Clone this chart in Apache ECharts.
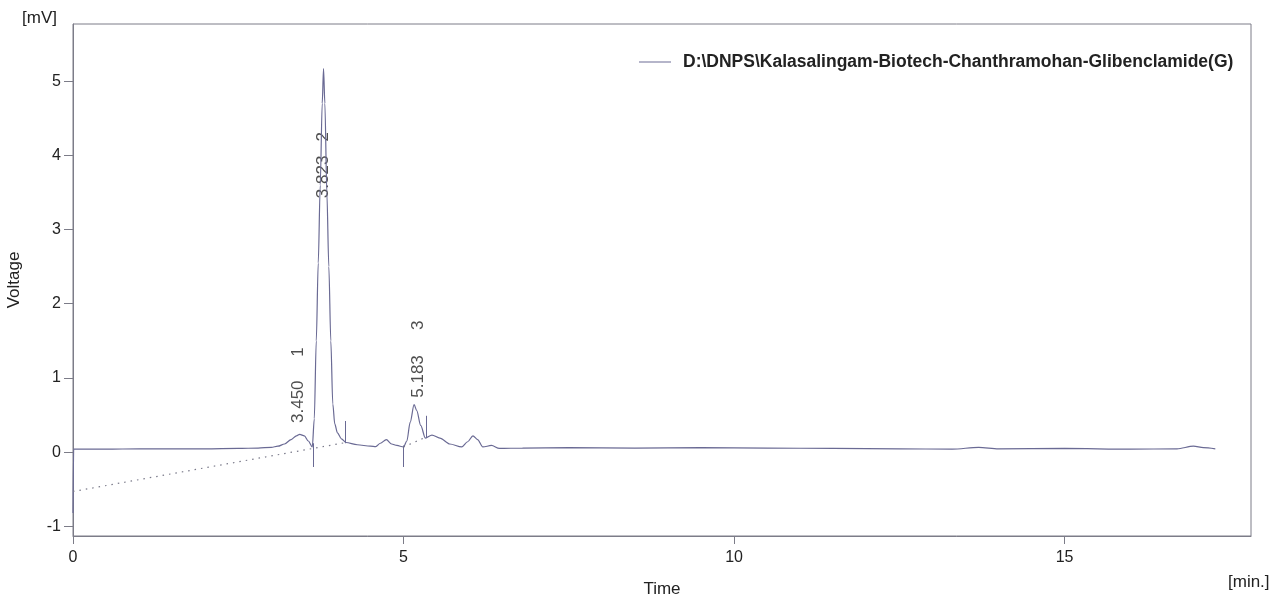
<!DOCTYPE html>
<html>
<head>
<meta charset="utf-8">
<script src="https://cdn.jsdelivr.net/npm/echarts@6/dist/echarts.min.js"></script>
<style>
  html, body { margin: 0; padding: 0; background: #fff; }
  #chart { width: 1288px; height: 600px; }
</style>
</head>
<body>
<div id="chart"></div>
<script>
// chromatogram trace (time in min, voltage in mV)
var times = [0, 0.01, 0.5, 1.0, 1.5, 2.0, 2.5, 2.8, 3.0, 3.1, 3.2, 3.3, 3.38, 3.43, 3.5, 3.56, 3.62,
    3.65, 3.68, 3.71, 3.74, 3.77, 3.79, 3.81, 3.84, 3.87, 3.9, 3.93, 3.96, 4.0, 4.06, 4.13,
    4.3, 4.5, 4.58, 4.65, 4.74, 4.82, 4.9, 5.0, 5.05, 5.1, 5.16, 5.2, 5.26, 5.33, 5.43, 5.55,
    5.7, 5.88, 5.97, 6.05, 6.12, 6.2, 6.33, 6.45, 6.8, 7.5, 8.5, 9.5, 10.5, 11.5, 12.5, 13.3,
    13.7, 14.0, 15.0, 16.0, 16.7, 16.95, 17.1, 17.28];
var voltage = [-0.82, 0.04, 0.04, 0.045, 0.045, 0.045, 0.05, 0.055, 0.065, 0.08, 0.11, 0.17, 0.22, 0.24, 0.22, 0.15, 0.07,
    0.45, 1.5, 2.55, 3.6, 4.7, 5.17, 4.7, 3.5, 2.5, 1.5, 0.65, 0.38, 0.26, 0.18, 0.13,
    0.1, 0.08, 0.075, 0.12, 0.17, 0.11, 0.09, 0.07, 0.15, 0.4, 0.64, 0.56, 0.36, 0.19, 0.23, 0.19,
    0.11, 0.07, 0.14, 0.22, 0.17, 0.07, 0.09, 0.05, 0.055, 0.06, 0.055, 0.06, 0.055, 0.05, 0.045, 0.04,
    0.065, 0.045, 0.05, 0.04, 0.045, 0.08, 0.06, 0.045];

// peak annotations
var peakTimes = ['3.450', '3.823', '5.183'];
var peakNums = ['1', '2', '3'];
var labelTimes = [3.41, 3.79, 5.22];
var timeLabelY = [0.68, 3.71, 1.02];
var numLabelY = [1.35, 4.25, 1.71];

// integration marks: [time, from, to]
var markTimes = [3.63, 4.125, 5.0, 5.35];
var markFrom = [0.12, 0.42, 0.09, 0.49];
var markTo = [-0.2, 0.12, -0.2, 0.19];

// dotted baselines: [t1, v1, t2, v2]
var baseLines = [[0, -0.53, 4.13, 0.13], [5.0, 0.07, 5.36, 0.21]];

var xTicks = [0, 5, 10, 15];
var yTicks = [-1, 0, 1, 2, 3, 4, 5];

var seriesName = 'D:\\DNPS\\Kalasalingam-Biotech-Chanthramohan-Glibenclamide(G)';
var lineColor = '#6a6a94';
var axisColor = '#7c7c88';
var textColor = '#222';

var trace = [];
for (var i = 0; i < times.length; i++) {
    trace.push([times[i], voltage[i]]);
}
var markData = [];
for (var i = 0; i < markTimes.length; i++) {
    markData.push([{ coord: [markTimes[i], markFrom[i]] }, { coord: [markTimes[i], markTo[i]] }]);
}
var baseData = [];
for (var i = 0; i < baseLines.length; i++) {
    var b = baseLines[i];
    baseData.push([{ coord: [b[0], b[1]] }, { coord: [b[2], b[3]] }]);
}
var timeLabels = [];
var numLabels = [];
for (var i = 0; i < peakTimes.length; i++) {
    timeLabels.push({ value: [labelTimes[i], timeLabelY[i]], text: peakTimes[i] });
    numLabels.push({ value: [labelTimes[i], numLabelY[i]], text: peakNums[i] });
}

var peakLabel = {
    show: true,
    position: 'inside',
    rotate: 90,
    color: textColor,
    fontSize: 17,
    fontFamily: 'Liberation Sans',
    formatter: function (p) { return p.data.text; }
};

var myChart = echarts.init(document.getElementById('chart'));
var option = {
    animation: false,
    backgroundColor: '#fff',
    grid: {
        left: 73,
        right: 37,
        top: 24,
        bottom: 64,
        outerBoundsMode: 'none',
        show: true,
        borderColor: axisColor,
        borderWidth: 1
    },
    legend: {
        data: [seriesName],
        left: 634,
        top: 48,
        icon: 'rect',
        itemWidth: 32,
        itemHeight: 1,
        itemGap: 0,
        textStyle: {
            color: textColor,
            fontSize: 17.5,
            fontWeight: 'bold',
            fontFamily: 'Liberation Sans',
            padding: [0, 0, 0, 7]
        }
    },
    xAxis: {
        type: 'value',
        min: 0,
        max: 17.82,
        name: 'Time',
        nameLocation: 'middle',
        nameGap: 45,
        nameTextStyle: { color: textColor, fontSize: 17, fontFamily: 'Liberation Sans' },
        axisLine: { show: true, onZero: false, lineStyle: { color: axisColor } },
        axisTick: { show: true, length: 8, customValues: xTicks, lineStyle: { color: axisColor } },
        axisLabel: { color: textColor, fontSize: 16, fontFamily: 'Liberation Sans', margin: 14, customValues: xTicks },
        splitLine: { show: false }
    },
    yAxis: {
        type: 'value',
        min: -1.13,
        max: 5.77,
        name: 'Voltage',
        nameLocation: 'middle',
        nameGap: 50,
        nameTextStyle: { color: textColor, fontSize: 17, fontFamily: 'Liberation Sans' },
        axisLine: { show: true, onZero: false, lineStyle: { color: axisColor } },
        axisTick: { show: true, length: 9, customValues: yTicks, lineStyle: { color: axisColor } },
        axisLabel: { color: textColor, fontSize: 16, fontFamily: 'Liberation Sans', margin: 12, customValues: yTicks },
        splitLine: { show: false }
    },
    graphic: [{
        type: 'text',
        left: 22,
        top: 10,
        style: { text: '[mV]', fill: textColor, fontSize: 17, fontFamily: 'Liberation Sans' }
    }, {
        type: 'text',
        left: 1228,
        top: 574,
        style: { text: '[min.]', fill: textColor, fontSize: 17, fontFamily: 'Liberation Sans' }
    }],
    series: [{
        name: seriesName,
        type: 'line',
        data: trace,
        symbol: 'none',
        smooth: 0.3,
        smoothMonotone: 'x',
        lineStyle: { color: lineColor, width: 1.2 },
        itemStyle: { color: lineColor },
        markLine: {
            silent: true,
            symbol: 'none',
            label: { show: false },
            lineStyle: { color: lineColor, width: 1, type: 'solid' },
            data: markData
        }
    }, {
        name: 'baseline',
        type: 'line',
        data: [],
        markLine: {
            silent: true,
            symbol: 'none',
            label: { show: false },
            lineStyle: { color: '#7a7a8a', width: 1.2, type: [1.5, 5] },
            data: baseData
        }
    }, {
        name: 'rt',
        type: 'scatter',
        symbolSize: 1,
        itemStyle: { color: 'rgba(0,0,0,0)' },
        label: peakLabel,
        data: timeLabels
    }, {
        name: 'num',
        type: 'scatter',
        symbolSize: 1,
        itemStyle: { color: 'rgba(0,0,0,0)' },
        label: peakLabel,
        data: numLabels
    }]
};
myChart.setOption(option);
window.addEventListener('resize', function () {
    myChart.resize();
});
</script>
</body>
</html>
